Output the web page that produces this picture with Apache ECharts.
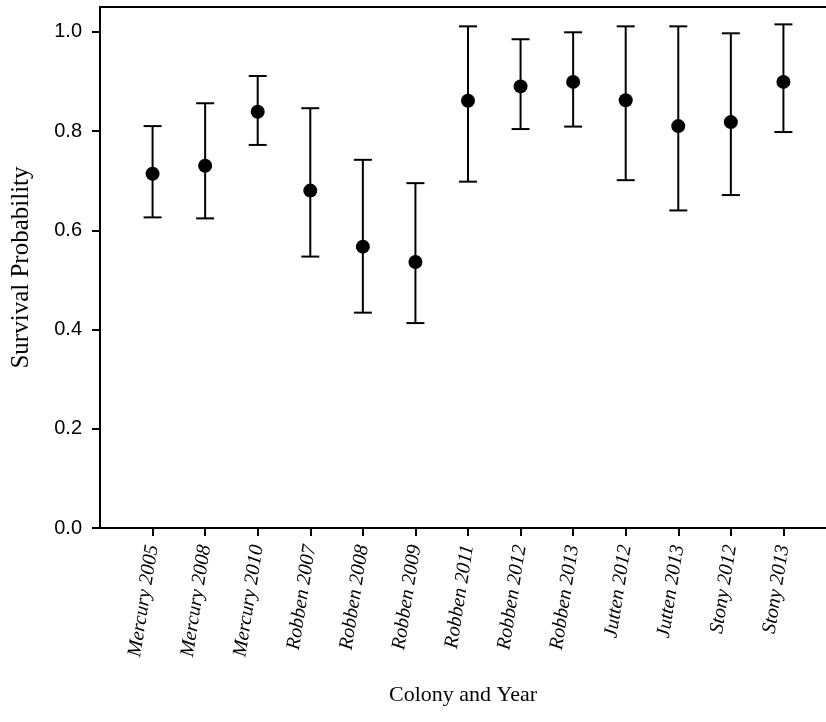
<!DOCTYPE html>
<html>
<head>
<meta charset="utf-8">
<script src="https://cdn.jsdelivr.net/npm/echarts@6/dist/echarts.min.js"></script>
<style>html,body{margin:0;padding:0;background:#fff;}#chart{width:826px;height:722px;}</style>
</head>
<body>
<div id="chart"></div>
<script>
var categories = ['Mercury 2005','Mercury 2008','Mercury 2010','Robben 2007','Robben 2008','Robben 2009','Robben 2011','Robben 2012','Robben 2013','Jutten 2012','Jutten 2013','Stony 2012','Stony 2013'];
var survival = [0.714, 0.730, 0.839, 0.680, 0.567, 0.536, 0.861, 0.890, 0.899, 0.862, 0.810, 0.818, 0.899];
var upper    = [0.810, 0.856, 0.911, 0.846, 0.742, 0.695, 1.011, 0.985, 0.999, 1.011, 1.011, 0.997, 1.015];
var lower    = [0.626, 0.624, 0.772, 0.547, 0.434, 0.413, 0.698, 0.804, 0.809, 0.701, 0.640, 0.671, 0.798];
var yTicks = [0, 0.2, 0.4, 0.6, 0.8, 1.0];

var positions = categories.map(function(c, i){ return i + 1; });
var pointData = survival.map(function(v, i){ return [positions[i], v]; });
var errData = survival.map(function(v, i){ return [positions[i], lower[i], upper[i]]; });

var chart = echarts.init(document.getElementById('chart'));
chart.setOption({
  animation: false,
  backgroundColor: '#fff',
  grid: { left: 100, top: 7, right: 0, bottom: 194, show: false },
  xAxis: [{
    type: 'value', min: 0, max: 13.81, interval: 1,
    splitLine: { show: false },
    axisLine: { show: true, lineStyle: { color: '#000', width: 2 } },
    axisTick: { show: true, length: 8, lineStyle: { color: '#000', width: 2 }, customValues: positions },
    axisLabel: {
      customValues: positions,
      rotate: 81, margin: 17,
      color: '#000', fontFamily: 'Liberation Serif', fontStyle: 'italic', fontSize: 20,
      formatter: function(v){ var i = Math.round(v) - 1; return categories[i] || ''; }
    },
    name: 'Colony and Year', nameLocation: 'middle', nameGap: 156,
    nameTextStyle: { color: '#000', fontFamily: 'Liberation Serif', fontSize: 22 }
  }, {
    type: 'value', position: 'top', min: 0, max: 13.81,
    splitLine: { show: false },
    axisLine: { show: true, onZero: false, lineStyle: { color: '#000', width: 2 } },
    axisTick: { show: false }, axisLabel: { show: false }
  }],
  yAxis: {
    type: 'value', min: 0, max: 1.05, interval: 0.2,
    splitLine: { show: false },
    axisLine: { show: true, lineStyle: { color: '#000', width: 2 } },
    axisTick: { show: true, length: 8, lineStyle: { color: '#000', width: 2 }, customValues: yTicks },
    axisLabel: {
      customValues: yTicks, margin: 18,
      color: '#000', fontFamily: 'Liberation Sans', fontSize: 20,
      formatter: function(v){ return v.toFixed(1); }
    },
    name: 'Survival Probability', nameLocation: 'middle', nameGap: 66,
    nameTextStyle: { color: '#000', fontFamily: 'Liberation Serif', fontSize: 25 }
  },
  series: [
    {
      type: 'custom',
      data: errData,
      renderItem: function(params, api){
        var x = api.value(0);
        var lo = api.coord([x, api.value(1)]);
        var hi = api.coord([x, api.value(2)]);
        var hw = 9;
        var style = { stroke: '#000', lineWidth: 2 };
        return { type: 'group', children: [
          { type: 'line', shape: { x1: lo[0], y1: lo[1], x2: hi[0], y2: hi[1] }, style: style },
          { type: 'line', shape: { x1: hi[0]-hw, y1: hi[1], x2: hi[0]+hw, y2: hi[1] }, style: style },
          { type: 'line', shape: { x1: lo[0]-hw, y1: lo[1], x2: lo[0]+hw, y2: lo[1] }, style: style }
        ]};
      },
      z: 2
    },
    {
      type: 'scatter', data: pointData, symbol: 'circle', symbolSize: 14,
      itemStyle: { color: '#000', opacity: 1 }, z: 3
    }
  ]
});
</script>
</body>
</html>
